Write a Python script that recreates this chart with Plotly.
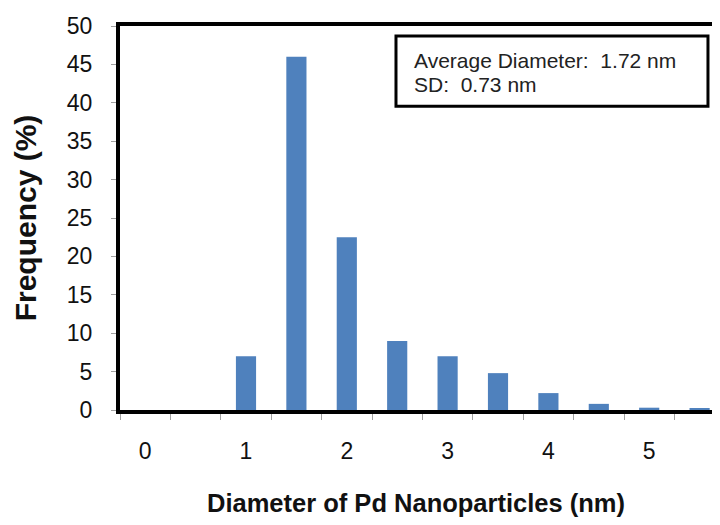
import plotly.graph_objects as go

diameters = [0, 0.5, 1, 1.5, 2, 2.5, 3, 3.5, 4, 4.5, 5, 5.5]
frequency = [0, 0, 7, 46, 22.5, 9, 7, 4.8, 2.2, 0.8, 0.3, 0.2]
x_tick_vals = [0, 1, 2, 3, 4, 5]
y_tick_vals = [0, 5, 10, 15, 20, 25, 30, 35, 40, 45, 50]
stats_lines = ["Average Diameter:  1.72 nm", "SD:  0.73 nm"]

FONT = "Liberation Sans, Arial, sans-serif"

fig = go.Figure()
fig.add_trace(go.Bar(x=diameters, y=frequency, width=0.2,
                     marker=dict(color="#4F81BD", line=dict(width=0))))

fig.update_layout(
    width=704, height=509,
    margin=dict(l=112, r=0, t=18, b=104, pad=0),
    paper_bgcolor="white", plot_bgcolor="white",
    showlegend=False,
    font=dict(family=FONT, color="black"),
    xaxis=dict(
        range=[-0.25, 5.623],
        tickvals=x_tick_vals,
        ticks="outside", ticklen=6, tickcolor="rgba(0,0,0,0)",
        ticklabelstandoff=11,
        tickfont=dict(size=23, color="#111"),
        showgrid=False, zeroline=False,
        showline=True, linecolor="black", linewidth=4, mirror=True,
        minor=dict(tick0=-0.25, dtick=0.5, ticks="outside", ticklen=6,
                   tickcolor="#a0a0a0", tickwidth=1, showgrid=False),
        title=dict(text="<b>Diameter of Pd Nanoparticles (nm)</b>",
                   font=dict(size=25.5, color="#111"), standoff=36),
    ),
    yaxis=dict(
        range=[0, 50],
        tickvals=y_tick_vals,
        ticks="outside", ticklen=5, tickcolor="#a0a0a0",
        ticklabelstandoff=14,
        tickfont=dict(size=23, color="#111"),
        showgrid=False, zeroline=False,
        showline=True, linecolor="black", linewidth=4,
        title=dict(text="<b>Frequency (%)</b>",
                   font=dict(size=30, color="#111"), standoff=22),
    ),
)

fig.add_shape(type="rect", xref="paper", yref="paper",
              x0=0.4662, x1=0.9932, y0=0.7907, y1=0.9742,
              line=dict(color="black", width=3), fillcolor="white")

for txt, ypos in zip(stats_lines, [0.9096, 0.8475]):
    fig.add_annotation(xref="paper", yref="paper", x=0.4932, y=ypos,
                       xanchor="left", yanchor="middle", text=txt,
                       showarrow=False,
                       font=dict(family=FONT, size=21, color="#222"))

fig.write_html("out.html")
